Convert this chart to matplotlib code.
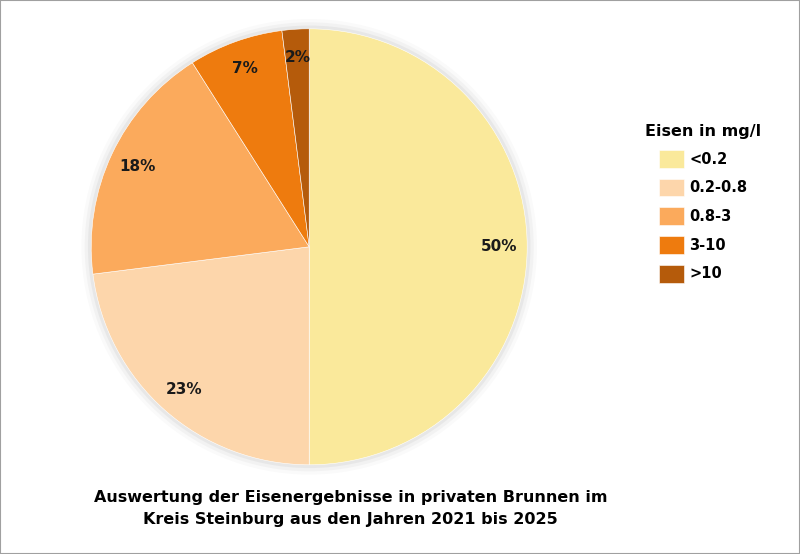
import matplotlib.pyplot as plt
from matplotlib.patches import Circle, Rectangle

categories = ['<0.2', '0.2-0.8', '0.8-3', '3-10', '>10']
values = [50, 23, 18, 7, 2]
colors = ['#FAE99B', '#FDD6AB', '#FBAA5C', '#EE7B0E', '#B55B0B']

fig = plt.figure(figsize=(8, 5.54), dpi=100)
fig.patches.append(Rectangle((0, 0), 1, 1, transform=fig.transFigure,
                             fill=False, edgecolor='#A0A0A0', linewidth=1.5))

ax = fig.add_axes([0.114, 0.161, 0.545, 0.787])
# soft shadow around the pie
for r, a in [(1.045, 0.04), (1.03, 0.06), (1.015, 0.09)]:
    ax.add_patch(Circle((0, 0), r, color='#808080', alpha=a, zorder=0, lw=0,
                        clip_on=False))

wedges, texts, autotexts = ax.pie(
    values, colors=colors, startangle=90, counterclock=False,
    autopct='%d%%', pctdistance=0.87,
    wedgeprops=dict(edgecolor='#FFFFFF', linewidth=0.4),
    textprops=dict(fontsize=11, fontweight='bold', color='#1A1A1A'))
ax.set_xlim(-1.0, 1.0)
ax.set_ylim(-1.0, 1.0)
ax.set_aspect('equal')

fig.legend(wedges, categories, title='Eisen in mg/l', loc='upper left',
           bbox_to_anchor=(0.79, 0.8), frameon=False,
           prop=dict(size=10.5, weight='bold'),
           title_fontproperties=dict(size=11.5, weight='bold'),
           handlelength=1.7, handleheight=1.5, labelspacing=0.75,
           handletextpad=0.4)

fig.text(0.438, 0.082, 'Auswertung der Eisenergebnisse in privaten Brunnen im\n'
         'Kreis Steinburg aus den Jahren 2021 bis 2025',
         ha='center', va='center', fontsize=11.5, fontweight='bold',
         linespacing=1.6)

fig.savefig('out.png', dpi=100)
